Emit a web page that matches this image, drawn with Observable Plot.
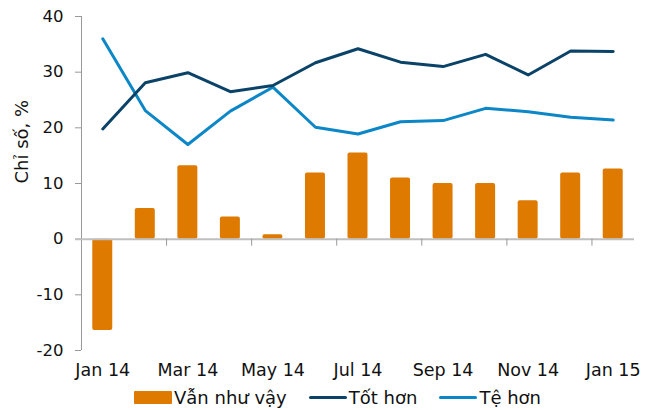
<!DOCTYPE html>
<html>
<head>
<meta charset="utf-8">
<script src="https://cdn.jsdelivr.net/npm/d3@7"></script>
<script src="https://cdn.jsdelivr.net/npm/@observablehq/plot@0.6"></script>
<style>
  body { margin: 0; background: #fff; font-family: "DejaVu Sans", Verdana, sans-serif; }
  #chart svg { display: block; overflow: visible; }
  .legend { display: flex; align-items: center; height: 26px; padding-left: 134px; font-size: 18px; color: #111; margin-top: 0px; }
  .legend .item { display: flex; align-items: center; margin-right: 22px; }
  .legend .sw { width: 38px; margin-right: 2px; }
</style>
</head>
<body>
<div id="chart"></div>
<div class="legend">
  <div class="item"><div class="sw" style="height:13px;background:#DF7A00;border-radius:1px"></div><span>Vẫn như vậy</span></div>
  <div class="item"><div class="sw" style="height:3px;background:#0B4368;border-radius:2px"></div><span>Tốt hơn</span></div>
  <div class="item"><div class="sw" style="height:3px;background:#0B86C6;border-radius:2px"></div><span>Tệ hơn</span></div>
</div>
<script>
const months = ["Jan 14","Feb 14","Mar 14","Apr 14","May 14","Jun 14","Jul 14","Aug 14","Sep 14","Oct 14","Nov 14","Dec 14","Jan 15"];
const stayed = [-16.4, 5.5, 13.2, 4.0, 0.8, 11.9, 15.5, 11.0, 10.0, 10.0, 6.9, 11.9, 12.6];
const better = [19.8, 28.1, 29.9, 26.5, 27.6, 31.7, 34.2, 31.8, 31.0, 33.2, 29.5, 33.8, 33.7];
const worse  = [36.0, 23.1, 17.0, 23.0, 27.3, 20.1, 18.9, 21.1, 21.3, 23.5, 22.9, 21.9, 21.4];
const tickLabels = ["Jan 14","Mar 14","May 14","Jul 14","Sep 14","Nov 14","Jan 15"];
const yTicks = [-20, -10, 0, 10, 20, 30, 40];
const yLabel = "Chỉ số, %";

const rows = months.map((m, i) => ({m, i, stayed: stayed[i], better: better[i], worse: worse[i]}));
const labelRows = tickLabels.map(t => ({t, i: months.indexOf(t)}));
const boundaryTicks = d3.range(2, 13, 2);

const chart = Plot.plot({
  width: 657,
  height: 384,
  marginLeft: 81,
  marginRight: 23,
  marginTop: 16,
  marginBottom: 34,
  style: {fontFamily: "DejaVu Sans, Verdana, sans-serif", fontSize: "16px", color: "#111", background: "#fff"},
  x: {type: "linear", domain: [0, 13], axis: null},
  y: {domain: [-20, 40], axis: null},
  marks: [
    Plot.ruleX([0], {stroke: "#999", strokeWidth: 1}),
    Plot.axisY({ticks: yTicks, tickSize: 6, tickPadding: 12, stroke: "#999", fontSize: 16.5, label: null, tickFormat: d => String(d)}),
    Plot.rectY(rows, {x1: d => d.i + 0.265, x2: d => d.i + 0.735, y1: 0, y2: "stayed", fill: "#DF7A00", rx: 2}),
    Plot.ruleY([0], {stroke: "#BFBFBF", strokeWidth: 2, insetLeft: -6}),
    Plot.ruleX(boundaryTicks, {x: d => d, y1: 0, y2: 0, insetBottom: -7, stroke: "#999"}),
    Plot.line(rows, {x: d => d.i + 0.5, y: "worse", stroke: "#0B86C6", strokeWidth: 3, strokeLinejoin: "round", strokeLinecap: "round"}),
    Plot.line(rows, {x: d => d.i + 0.5, y: "better", stroke: "#0B4368", strokeWidth: 3, strokeLinejoin: "round", strokeLinecap: "round"}),
    Plot.text(labelRows, {x: d => d.i + 0.5, text: "t", frameAnchor: "bottom", dy: 25, fontSize: 17.5, fill: "#111"}),
    Plot.text([yLabel], {frameAnchor: "left", rotate: -90, dx: -59, fontSize: 18, fill: "#111", text: d => d})
  ]
});
document.getElementById("chart").appendChild(chart);
</script>
</body>
</html>
